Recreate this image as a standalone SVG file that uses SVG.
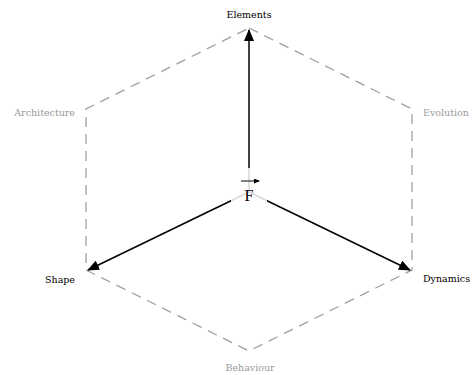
<svg xmlns="http://www.w3.org/2000/svg" width="473" height="375" viewBox="0 0 473 375">
<style>
.hex{fill:none;stroke:#a0a0a0;stroke-width:1.3;stroke-dasharray:10 7}
.arr{stroke:#000;stroke-width:1.5;fill:none}
.lbl{font-family:"DejaVu Serif","Liberation Serif",serif;font-size:9.5px}
.g{fill:#999}
.k{fill:#000}
</style>
<defs>
<marker id="ah" markerWidth="12" markerHeight="10" refX="11" refY="5" orient="auto" markerUnits="userSpaceOnUse">
<path d="M0,0 L12,5 L0,10 Z" fill="#000"/>
</marker>
<marker id="sa" markerWidth="6" markerHeight="5" refX="5" refY="2.5" orient="auto" markerUnits="userSpaceOnUse">
<path d="M0,0 L6,2.5 L0,5 Z" fill="#000"/>
</marker>
</defs>
<g id="hexagon">
<path class="hex" d="M249,28 L412,109 L412,270 L249,351 L86,270 L86,109 Z"/>
</g>
<g id="connectors">
<line class="arr" x1="249" y1="192" x2="249" y2="30" marker-end="url(#ah)"/>
<line class="arr" x1="249" y1="192" x2="88" y2="270" marker-end="url(#ah)"/>
<line class="arr" x1="249" y1="192" x2="410" y2="270" marker-end="url(#ah)"/>
</g>
<g id="center">
<rect x="231" y="168" width="36" height="38" fill="#fff" opacity="0.85"/>
<line x1="241" y1="181" x2="259" y2="181" stroke="#000" stroke-width="1" marker-end="url(#sa)"/>
<text x="249" y="201" text-anchor="middle" style="font-family:'Liberation Serif',serif;font-size:16px" fill="#000">F</text>
</g>
<g id="elements"><text class="lbl k" x="249" y="18" text-anchor="middle">Elements</text></g>
<g id="architecture"><text class="lbl g" x="75" y="116" text-anchor="end">Architecture</text></g>
<g id="evolution"><text class="lbl g" x="423" y="116">Evolution</text></g>
<g id="shape"><text class="lbl k" x="75" y="283" text-anchor="end">Shape</text></g>
<g id="dynamics"><text class="lbl k" x="423" y="282">Dynamics</text></g>
<g id="behaviour"><text class="lbl g" x="250" y="371" text-anchor="middle">Behaviour</text></g>
</svg>
